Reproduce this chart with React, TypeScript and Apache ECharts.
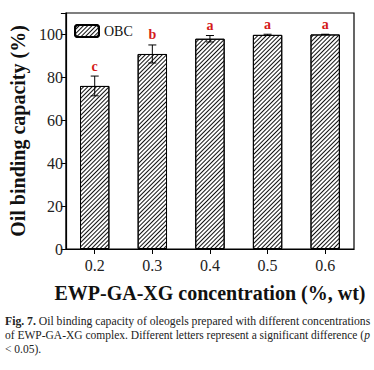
import React, { useEffect, useRef } from "react";
import * as echarts from "echarts";

const categories = ["0.2", "0.3", "0.4", "0.5", "0.6"];
const obcValues = [76.0, 90.9, 98.0, 99.8, 100.0];
const obcErrors = [4.6, 4.2, 1.5, 0.3, 0.1];
const sigLetters = ["c", "b", "a", "a", "a"];
const yTicks = [0, 20, 40, 60, 80, 100];

const SERIF = "Liberation Serif";

export default function App() {
  const ref = useRef<HTMLDivElement>(null);
  useEffect(() => {
    if (!ref.current) return;
    const chart = echarts.init(ref.current, null, { renderer: "svg" });
    const hatch = {
      symbol: "rect",
      symbolSize: 1,
      dashArrayX: [1, 0],
      dashArrayY: [1, 1.6],
      rotation: -Math.PI / 4,
      color: "#111",
    };
    chart.setOption({
      animation: false,
      backgroundColor: "#fff",
      textStyle: { fontFamily: SERIF },
      grid: { left: 63, right: 20, top: 13, bottom: 121, show: true, borderColor: "#000", borderWidth: 1.2, backgroundColor: "transparent" },
      legend: {
        show: true,
        left: 69,
        top: 19,
        itemWidth: 24,
        itemHeight: 12,
        itemGap: 6,
        textStyle: { fontFamily: SERIF, fontSize: 14, color: "#111" },
        data: ["OBC"],
      },
      xAxis: {
        type: "category",
        data: categories,
        name: "EWP-GA-XG concentration (%, wt)",
        nameLocation: "middle",
        nameGap: 34,
        nameTextStyle: { fontFamily: SERIF, fontSize: 20, fontWeight: "bold", color: "#111" },
        axisLine: { lineStyle: { color: "#000", width: 1.2 } },
        axisTick: { show: true, alignWithLabel: true, length: 5, lineStyle: { color: "#000" } },
        axisLabel: { fontFamily: SERIF, fontSize: 16, color: "#222", margin: 8 },
      },
      yAxis: {
        type: "value",
        min: 0,
        max: 110,
        interval: 20,
        name: "Oil binding capacity (%)",
        nameLocation: "middle",
        nameGap: 35,
        nameTextStyle: { fontFamily: SERIF, fontSize: 20, fontWeight: "bold", color: "#111" },
        splitLine: { show: false },
        axisLine: { show: true, lineStyle: { color: "#000", width: 1.2 } },
        axisTick: { show: true, length: 5, lineStyle: { color: "#000" } },
        axisLabel: {
          fontFamily: SERIF,
          fontSize: 16,
          color: "#222",
          margin: 3,
          formatter: (v: number) => (yTicks.includes(v) ? String(v) : ""),
        },
      },
      series: [
        {
          name: "OBC",
          type: "bar",
          data: obcValues,
          barWidth: "51%",
          itemStyle: { color: "#fff", borderColor: "#000", borderWidth: 1, decal: hatch },
        },
        {
          name: "err",
          type: "custom",
          data: obcValues.map((v, i) => [i, v - obcErrors[i], v + obcErrors[i]]),
          z: 10,
          renderItem: (params: any, api: any) => {
            const i = api.value(0);
            const lo = api.coord([i, api.value(1)]);
            const hi = api.coord([i, api.value(2)]);
            const hw = 4;
            const st = { stroke: "#000", lineWidth: 1 };
            return {
              type: "group",
              children: [
                { type: "line", shape: { x1: lo[0], y1: lo[1], x2: hi[0], y2: hi[1] }, style: st },
                { type: "line", shape: { x1: hi[0] - hw, y1: hi[1], x2: hi[0] + hw, y2: hi[1] }, style: st },
                { type: "line", shape: { x1: lo[0] - hw, y1: lo[1], x2: lo[0] + hw, y2: lo[1] }, style: st },
                {
                  type: "text",
                  x: hi[0],
                  y: hi[1] - 3,
                  style: {
                    text: sigLetters[params.dataIndex],
                    fill: "#d41a1a",
                    fontFamily: SERIF,
                    fontWeight: "bold",
                    fontSize: 14,
                    align: "center",
                    verticalAlign: "bottom",
                  },
                },
              ],
            };
          },
        },
      ],
      graphic: [
        {
          type: "text",
          left: 5,
          top: 315,
          style: {
            text: "{b|Fig. 7.} Oil binding capacity of oleogels prepared with different concentrations",
            rich: {
              b: { fontFamily: SERIF, fontSize: 11.7, fontWeight: "bold", fill: "#222" },
            },
            fontFamily: SERIF,
            fontSize: 11.7,
            fill: "#222",
          },
        },
        {
          type: "text",
          left: 5,
          top: 329,
          style: {
            text: "of EWP-GA-XG complex. Different letters represent a significant difference ({i|p}",
            rich: { i: { fontFamily: SERIF, fontSize: 11.5, fontStyle: "italic", fill: "#222" } },
            fontFamily: SERIF,
            fontSize: 11.5,
            fill: "#222",
          },
        },
        {
          type: "text",
          left: 5,
          top: 343,
          style: { text: "< 0.05).", fontFamily: SERIF, fontSize: 11.5, fill: "#222" },
        },
      ],
    });
    return () => chart.dispose();
  }, []);
  return <div ref={ref} style={{ width: 374, height: 370, position: "absolute", left: 0, top: 0 }} />;
}
